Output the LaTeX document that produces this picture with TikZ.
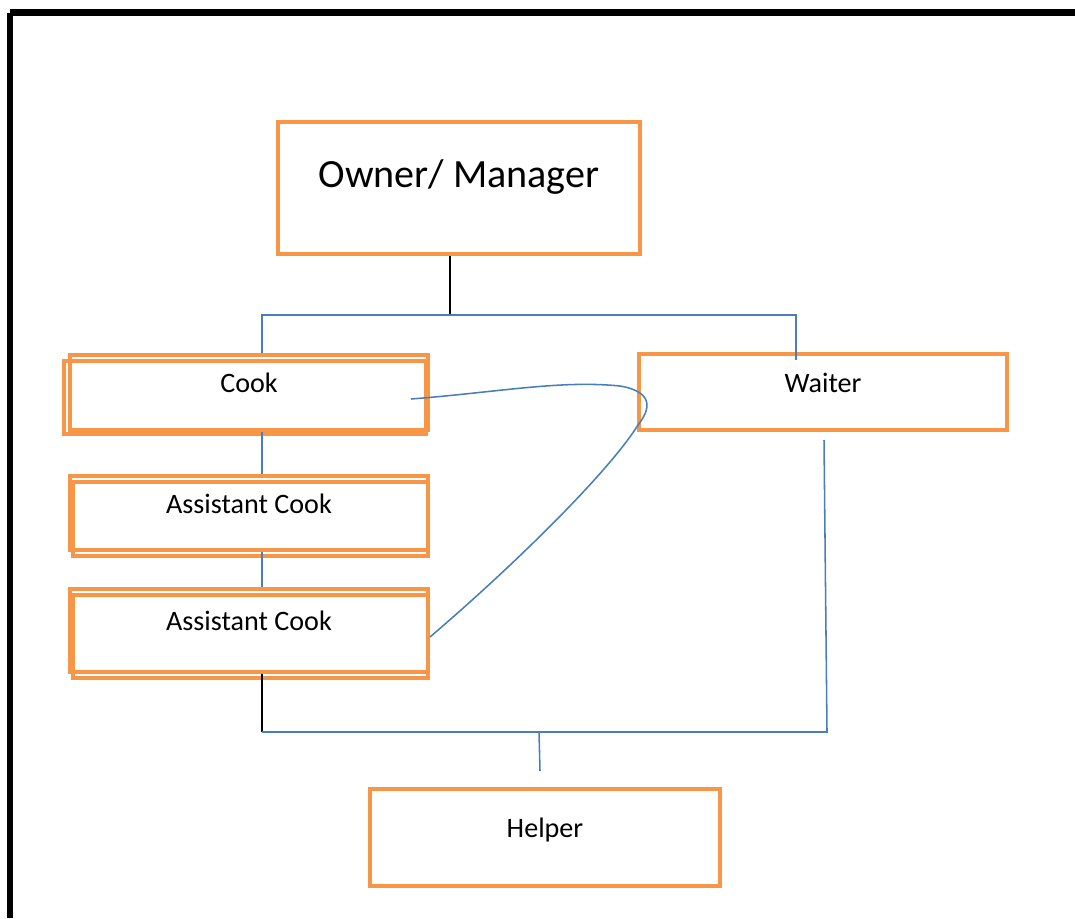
\documentclass[tikz,border=0pt]{standalone}
\usepackage{fontspec}
\setmainfont{Carlito}
\definecolor{boxorange}{HTML}{F79646}
\definecolor{linkblue}{HTML}{4A7EBB}
\begin{document}
\begin{tikzpicture}[x=0.025cm, y=-0.025cm,
    box/.style={draw=boxorange, line width=2.8pt, inner sep=2pt, text height=1.5ex, text depth=1.5ex, font=\fontsize{20}{24}\selectfont},
    shadowbox/.style={draw=boxorange, line width=2.8pt},
    link/.style={draw=linkblue, line width=1.1pt},
    blacklink/.style={draw=black, line width=1.1pt}]
    \useasboundingbox (0,0) rectangle (1075,918);
    \draw[line width=4.8pt] (10,13) -- (10,918);
    \draw[line width=4.8pt] (10,12.5) -- (1075,12.5);
    \node[box, minimum width=9.05cm, minimum height=3.3cm, font=\fontsize{28.5}{34}\selectfont] (owner) at (459,188) {Owner/ Manager};
    \draw[shadowbox] (64,361) rectangle (426,434);
    \node[box, minimum width=8.95cm, minimum height=1.875cm] (cook) at (249,392.5) {Cook};
    \draw[shadowbox] (73,482) rectangle (428,556);
    \node[box, minimum width=8.95cm, minimum height=1.85cm] (asstA) at (249,513) {Assistant Cook};
    \draw[shadowbox] (73,595) rectangle (428,678);
    \node[box, minimum width=8.95cm, minimum height=2.075cm] (asstB) at (249,630.5) {Assistant Cook};
    \node[box, minimum width=9.2cm, minimum height=1.9cm] (waiter) at (823,392) {Waiter};
    \node[box, minimum width=8.75cm, minimum height=2.425cm] (helper) at (545,837.5) {Helper};
    \coordinate (splitL) at (262,315);
    \coordinate (splitM) at (450,315);
    \coordinate (splitR) at (796,315);
    \coordinate (joinL) at (262,732);
    \coordinate (joinM) at (539,732);
    \coordinate (joinR) at (827,732);
    \coordinate (helperEnd) at (540,771);
    \coordinate (waiterEnd) at (824,440);
    \coordinate (waiterTop) at (796,360);
    \coordinate (loopstart) at (411,399);
    \coordinate (loopend) at (430,637);
    \draw[blacklink] (owner.south -| splitM) -- (splitM);
    \draw[link] (cook.north -| splitL) -- (splitL) -- (splitR) -- (waiterTop);
    \draw[link] (cook.south -| splitL) -- (asstA.north -| splitL);
    \draw[link] (asstA.south -| splitL) -- (asstB.north -| splitL);
    \draw[blacklink] (asstB.south -| joinL) -- (joinL);
    \draw[link] (joinL) -- (joinR) -- (waiterEnd);
    \draw[link] (joinM) -- (helperEnd);
    \draw[link] (loopstart) .. controls (500,392) and (560,380) .. (620,386)
        .. controls (655,392) and (650,410) .. (638,425)
        .. controls (610,470) and (520,560) .. (loopend);
\end{tikzpicture}
\end{document}
